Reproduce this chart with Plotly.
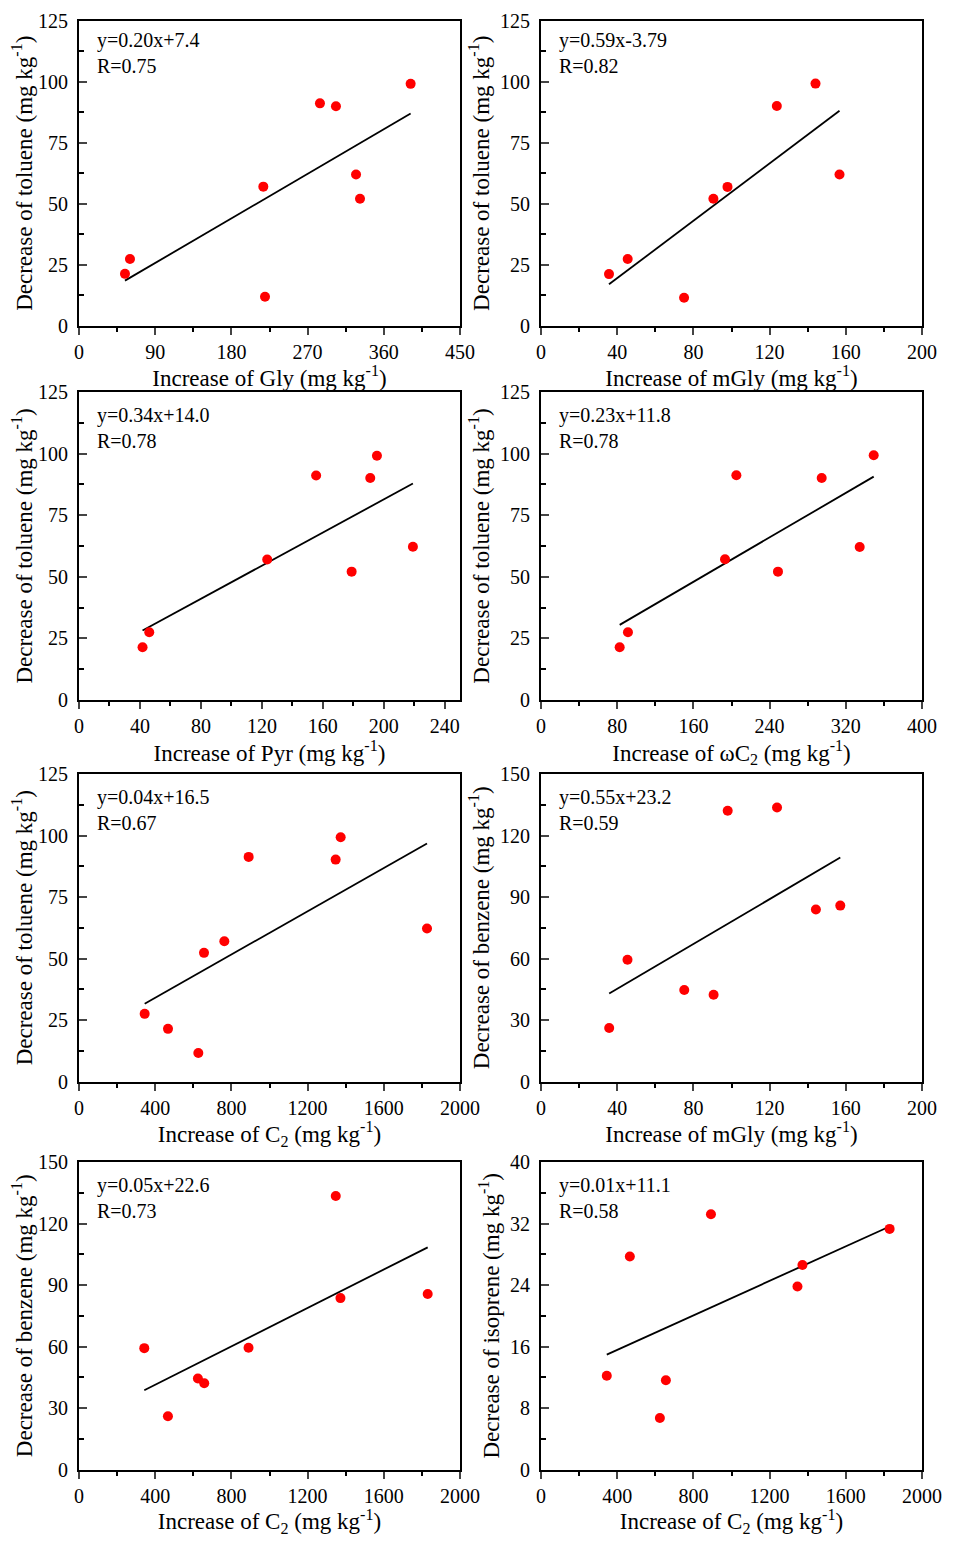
import numpy as np
import plotly.graph_objects as go

# panel 1: Gly vs toluene
gly_x = [54.3, 60.2, 217.7, 219.7, 284.6, 303.5, 327.2, 331.9, 391.7]
gly_toluene = [21.2, 27.3, 57.0, 11.8, 91.2, 90.0, 62.0, 52.0, 99.2]
# panel 2: mGly vs toluene
mgly_x = [35.7, 45.5, 75.1, 90.5, 97.9, 123.8, 144.1, 156.7]
mgly_toluene = [21.1, 27.3, 11.4, 52.0, 56.9, 90.1, 99.3, 62.0]
# panel 3: Pyr vs toluene
pyr_x = [41.7, 46.1, 123.5, 155.6, 178.9, 191.1, 195.5, 219.1]
pyr_toluene = [21.4, 27.5, 57.0, 91.1, 52.1, 90.1, 99.1, 62.2]
# panel 4: wC2 vs toluene
wc2_x = [82.6, 91.3, 193.2, 205.1, 248.8, 294.7, 334.6, 349.3]
wc2_toluene = [21.4, 27.5, 57.1, 91.2, 52.1, 90.1, 62.1, 99.3]
# panel 5: C2 vs toluene
c2_x = [344.7, 467.2, 626.4, 656.2, 762.9, 890.6, 1347.3, 1373.6, 1826.8]
c2_toluene = [27.5, 21.4, 11.6, 52.3, 57.0, 91.3, 90.2, 99.3, 62.2]
# panel 6: mGly vs benzene
mgly_b_x = [35.8, 45.4, 75.2, 90.6, 98.0, 123.9, 144.3, 157.1]
mgly_benzene = [26.1, 59.4, 44.6, 42.3, 132.1, 133.7, 83.9, 85.8]
# panel 7: C2 vs benzene
c2_b_x = [342.7, 466.8, 624.1, 657.3, 889.9, 1347.9, 1372.4, 1830.4]
c2_benzene = [59.2, 26.0, 44.4, 42.1, 59.4, 133.4, 83.6, 85.6]
# panel 8: C2 vs isoprene
c2_i_x = [345.3, 466.3, 624.0, 655.6, 892.2, 1346.2, 1372.5, 1830.0]
c2_isoprene = [12.2, 27.7, 6.7, 11.6, 33.2, 23.8, 26.6, 31.3]

equations = ['y=0.20x+7.4', 'y=0.59x-3.79', 'y=0.34x+14.0', 'y=0.23x+11.8',
             'y=0.04x+16.5', 'y=0.55x+23.2', 'y=0.05x+22.6', 'y=0.01x+11.1']
r_values = ['R=0.75', 'R=0.82', 'R=0.78', 'R=0.78',
            'R=0.67', 'R=0.59', 'R=0.73', 'R=0.58']

KG = ' (mg kg<sup>-1</sup>)'
panels = [
    (gly_x, gly_toluene, 'Increase of Gly' + KG, 'Decrease of toluene' + KG, 450, 90, 125, 25),
    (mgly_x, mgly_toluene, 'Increase of mGly' + KG, 'Decrease of toluene' + KG, 200, 40, 125, 25),
    (pyr_x, pyr_toluene, 'Increase of Pyr' + KG, 'Decrease of toluene' + KG, 250, 40, 125, 25),
    (wc2_x, wc2_toluene, 'Increase of ωC<sub>2</sub>' + KG, 'Decrease of toluene' + KG, 400, 80, 125, 25),
    (c2_x, c2_toluene, 'Increase of C<sub>2</sub>' + KG, 'Decrease of toluene' + KG, 2000, 400, 125, 25),
    (mgly_b_x, mgly_benzene, 'Increase of mGly' + KG, 'Decrease of benzene' + KG, 200, 40, 150, 30),
    (c2_b_x, c2_benzene, 'Increase of C<sub>2</sub>' + KG, 'Decrease of benzene' + KG, 2000, 400, 150, 30),
    (c2_i_x, c2_isoprene, 'Increase of C<sub>2</sub>' + KG, 'Decrease of isoprene' + KG, 2000, 400, 40, 8),
]

# page is 953x1545, the html body adds an 8px margin round the figure
OFF = 8
W, H = 953 - 2 * OFF, 1545 - 2 * OFF
cols = [(79, 460), (541, 922)]
rows = [(21, 325.5), (392, 700), (774, 1081.5), (1162, 1469.5)]
text_tops = [27, 402, 784, 1172]
FONT = 'Liberation Serif'


def f(size):
    return dict(family=FONT, size=size, color='black')


fig = go.Figure()
for i, (xs, ys, xt, yt, xmax, xd, ymax, yd) in enumerate(panels):
    n = '' if i == 0 else str(i + 1)
    c0, c1 = [c - OFF for c in cols[i % 2]]
    r0, r1 = [r - OFF for r in rows[i // 2]]
    xs = np.array(xs)
    ys = np.array(ys)
    k, b = np.polyfit(xs, ys, 1)
    lx = np.array([xs.min(), xs.max()])

    fig.add_trace(go.Scatter(x=lx, y=k * lx + b, mode='lines', line=dict(color='black', width=1.8),
                             xaxis='x' + n, yaxis='y' + n, showlegend=False))
    fig.add_trace(go.Scatter(x=xs, y=ys, mode='markers', marker=dict(color='#ff0000', size=10),
                             xaxis='x' + n, yaxis='y' + n, showlegend=False))

    fig.update_layout({
        'xaxis' + n: dict(domain=[c0 / W, c1 / W], anchor='y' + n, range=[0, xmax], dtick=xd, tick0=0,
                          ticks='outside', ticklen=7, tickwidth=1.5, mirror=True, automargin=False,
                          showline=True, linewidth=2, linecolor='black', showgrid=False, zeroline=False,
                          minor=dict(dtick=xd / 2, ticks='outside', ticklen=4, tickwidth=1.5, tickcolor='black'),
                          tickfont=f(20), ticklabeloverflow='allow',
                          title=dict(text=xt, font=f(23), standoff=2)),
        'yaxis' + n: dict(domain=[1 - r1 / H, 1 - r0 / H], anchor='x' + n, range=[0, ymax], dtick=yd, tick0=0,
                          ticks='inside', ticklen=8, tickwidth=1.5, mirror=True, automargin=False,
                          showline=True, linewidth=2, linecolor='black', showgrid=False, zeroline=False,
                          minor=dict(dtick=yd / 2, ticks='inside', ticklen=5, tickwidth=1.5, tickcolor='black'),
                          tickfont=f(20), ticklabelstandoff=5, ticklabeloverflow='allow',
                          title=dict(text=yt, font=f(23), standoff=4)),
    })
    fig.add_annotation(x=(cols[i % 2][0] + 16 - OFF) / W, y=1 - (text_tops[i // 2] - OFF) / H,
                       xref='paper', yref='paper',
                       text=equations[i] + '<br>' + r_values[i], showarrow=False,
                       xanchor='left', yanchor='top', align='left', font=f(20))

fig.update_layout(width=W, height=H, margin=dict(l=0, r=0, t=0, b=0, autoexpand=False),
                  plot_bgcolor='white', paper_bgcolor='white', font=f(20))
fig.write_html('out.html')
